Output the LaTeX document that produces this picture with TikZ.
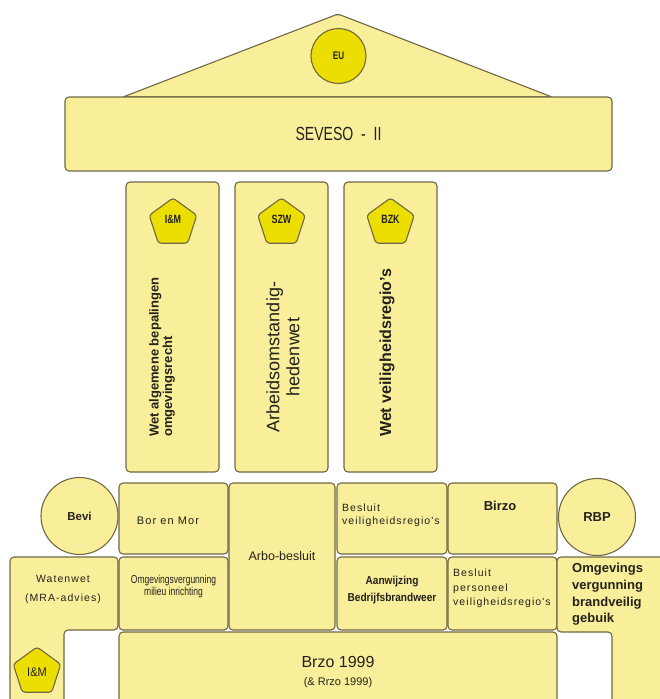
\documentclass[tikz,border=0pt]{standalone}
\usepackage{fontspec}
\setmainfont{Liberation Sans}
\newfontfamily\condfont[FakeStretch=0.74]{Liberation Sans}
\newfontfamily\narrowfont[FakeStretch=0.88]{Liberation Sans}
\newfontfamily\spacedfont[LetterSpace=10]{Liberation Sans}
\usetikzlibrary{shapes.geometric}
\definecolor{boxfill}{RGB}{249,238,154}
\definecolor{badgefill}{RGB}{236,222,0}
\definecolor{edgecol}{RGB}{112,104,68}
\definecolor{inkcol}{RGB}{36,34,26}
\newcommand{\fsz}[2]{\fontsize{#1}{#2}\selectfont}
\tikzset{
	slab/.style={draw=edgecol,fill=boxfill,line width=1.1pt,rounded corners=4pt,inner sep=0pt},
	badge/.style={draw=edgecol,fill=badgefill,line width=1.1pt,regular polygon,regular polygon sides=5,
		minimum size=50pt,inner sep=0pt,rounded corners=3pt},
	disc/.style={draw=edgecol,fill=boxfill,line width=1.1pt,circle,inner sep=0pt,minimum size=77pt},
	every node/.style={text=inkcol}
}
\begin{document}
\begin{tikzpicture}[x=1pt,y=-1pt]
	\useasboundingbox (0,0) rectangle (660,699);
	\clip (0,0) rectangle (660,699);
	% roof and architrave
	\draw[slab,rounded corners=2pt] (123,97) -- (338,14) -- (552,97) -- cycle;
	\node[draw=edgecol,fill=badgefill,line width=1.1pt,circle,minimum size=55pt,inner sep=0pt] (eu) at (338.5,56) {\condfont\bfseries\fsz{11}{11}EU};
	\node[slab,minimum width=547pt,minimum height=74pt] (seveso) at (338.5,134) {\condfont\fsz{19}{19}SEVESO\ \ -\ \ II};
	% columns
	\node[slab,minimum width=93pt,minimum height=290pt] (wabo) at (172.5,327) {};
	\node[slab,minimum width=93pt,minimum height=290pt] (arbowet) at (281.5,327) {};
	\node[slab,minimum width=93pt,minimum height=290pt] (wvr) at (390.5,327) {};
	\node[badge] (imtop) at (173,223) {};
	\node[badge] (szw) at (281.5,223) {};
	\node[badge] (bzk) at (390.5,223) {};
	\node[font=\condfont\bfseries\fsz{12}{12}] (imtoptxt) at (173,219) {I\&M};
	\node[font=\condfont\bfseries\fsz{12}{12}] (szwtxt) at (281.5,219) {SZW};
	\node[font=\condfont\bfseries\fsz{12}{12}] (bzktxt) at (390.5,219) {BZK};
	\node[rotate=90,anchor=west,align=left,inner sep=0pt,font=\bfseries\fsz{13}{13.5}] (wabotxt) at (162,437) {Wet algemene bepalingen\\omgevingsrecht};
	\node[rotate=90,align=center,inner sep=0pt,font=\fsz{18}{20}] (arbowettxt) at (283,357) {Arbeidsomstandig-\\hedenwet};
	\node[rotate=90,anchor=west,inner sep=0pt,font=\bfseries\fsz{16}{16}] (wvrtxt) at (387,437) {Wet veiligheidsregio's};
	% upper row of the base
	\node[disc] (bevi) at (79.5,516) {\bfseries\fsz{11.5}{11.5}Bevi};
	\node[slab,minimum width=109pt,minimum height=71pt] (bormor) at (173.5,518.5) {};
	\node[font=\spacedfont\fsz{11}{11}] (bormortxt) at (168,521) {Bor en Mor};
	\node[slab,minimum width=106pt,minimum height=147pt] (arbobes) at (282,556.5) {\fsz{12.5}{12.5}Arbo-besluit};
	\node[slab,minimum width=110pt,minimum height=71pt] (bvr) at (392,518.5) {};
	\node[anchor=north west,align=left,inner sep=0pt,font=\spacedfont\fsz{10.5}{13}] (bvrtxt) at (342,504) {Besluit\\veiligheidsregio's};
	\node[slab,minimum width=109pt,minimum height=71pt] (birzo) at (502.5,518.5) {};
	\node[font=\bfseries\fsz{13}{13}] (birzotxt) at (500,506) {Birzo};
	\node[disc] (rbp) at (597,517) {\bfseries\fsz{13}{13}RBP};
	% lower row of the base
	\draw[slab] (10,557) -- (118,557) -- (118,630) -- (64,630) -- (64,712) -- (10,712) -- cycle;
	\node[align=center,font=\spacedfont\fsz{10.5}{19}] (watenwet) at (63,589) {Watenwet\\(MRA-advies)};
	\node[badge] (imlow) at (37,672) {};
	\node[font=\narrowfont\fsz{12.5}{12.5}] (imlowtxt) at (37,672) {I\&M};
	\node[slab,minimum width=109pt,minimum height=73pt] (omvmilieu) at (173.5,593.5) {};
	\node[align=center,inner sep=0pt,font=\condfont\fsz{11.5}{12}] (omvmilieutxt) at (173.5,587) {Omgevingsvergunning\\milieu inrichting};
	\node[slab,minimum width=110pt,minimum height=73pt] (aanw) at (392,593.5) {};
	\node[align=center,inner sep=0pt,font=\bfseries\narrowfont\fsz{11.5}{17}] (aanwtxt) at (392,590) {Aanwijzing\\Bedrijfsbrandweer};
	\node[slab,minimum width=109pt,minimum height=73pt] (bpvr) at (502.5,593.5) {};
	\node[anchor=north west,align=left,inner sep=0pt,font=\spacedfont\fsz{10.5}{14.5}] (bpvrtxt) at (453,569) {Besluit\\personeel\\veiligheidsregio's};
	\draw[slab] (557,557) -- (670,557) -- (670,712) -- (612,712) -- (612,632) -- (557,632) -- cycle;
	\node[anchor=north west,align=left,inner sep=0pt,font=\bfseries\fsz{13}{16.7}] (omvbrand) at (572,563) {Omgevings\\vergunning\\brandveilig\\gebuik};
	% foundation
	\node[slab,minimum width=438pt,minimum height=80pt] (brzo) at (338,672) {};
	\node[font=\fsz{16}{16}] (brzotxt) at (338,662) {Brzo 1999};
	\node[font=\fsz{11}{11}] (rrzotxt) at (338,683) {(\& Rrzo 1999)};
\end{tikzpicture}
\end{document}
